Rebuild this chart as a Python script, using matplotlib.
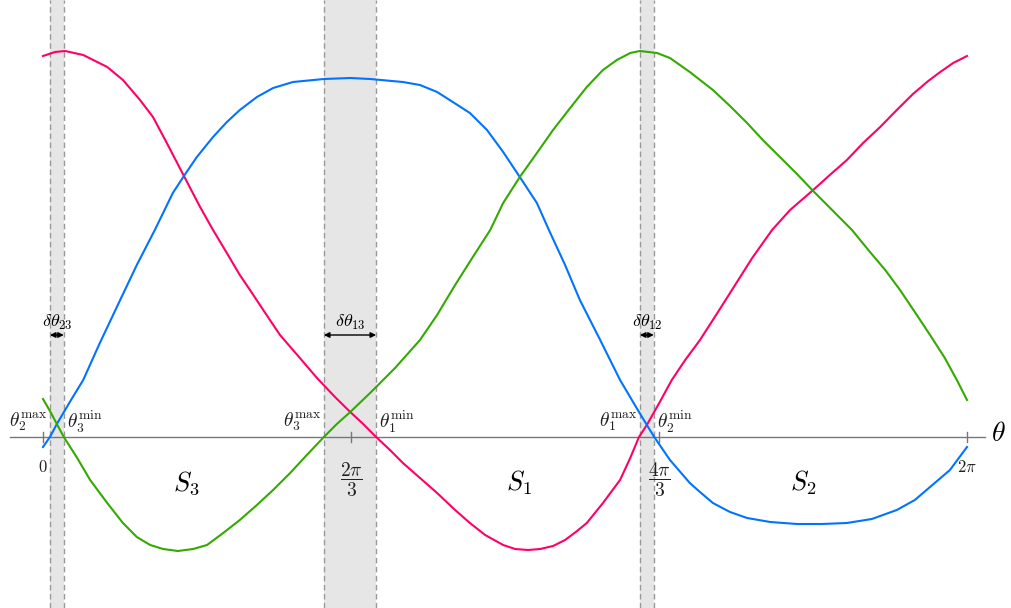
import numpy as np
import matplotlib
matplotlib.use("Agg")
import matplotlib.pyplot as plt

plt.rcParams['mathtext.fontset'] = 'cm'

# angle positions are in units of pi, values are arbitrary units
pink_t = [0.000, 0.026, 0.048, 0.087, 0.139, 0.173, 0.210, 0.238, 0.268, 0.305,
          0.340, 0.368, 0.394, 0.426, 0.448, 0.481, 0.513, 0.556, 0.593, 0.632,
          0.665, 0.693, 0.721, 0.751, 0.779, 0.816, 0.853, 0.892, 0.924, 0.957,
          0.996, 1.022, 1.050, 1.076, 1.104, 1.130, 1.156, 1.177, 1.212, 1.249,
          1.271, 1.290, 1.307, 1.335, 1.361, 1.390, 1.422, 1.461, 1.498, 1.535,
          1.578, 1.617, 1.667, 1.703, 1.740, 1.775, 1.812, 1.848, 1.883, 1.916,
          1.942, 1.970, 2.000]
pink_y = [3.81, 3.85, 3.86, 3.82, 3.70, 3.57, 3.37, 3.20, 2.94, 2.61,
          2.30, 2.07, 1.87, 1.62, 1.47, 1.24, 1.02, 0.79, 0.59, 0.40,
          0.25, 0.13, 0.00, -0.13, -0.26, -0.41, -0.56, -0.73, -0.86, -0.98,
          -1.08, -1.12, -1.13, -1.12, -1.09, -1.03, -0.94, -0.86, -0.66, -0.43,
          -0.21, 0.00, 0.12, 0.35, 0.57, 0.77, 0.97, 1.25, 1.52, 1.79,
          2.07, 2.27, 2.47, 2.62, 2.77, 2.94, 3.10, 3.27, 3.43, 3.56,
          3.65, 3.74, 3.81]

blue_t = [0.000, 0.015, 0.030, 0.058, 0.087, 0.123, 0.167, 0.203, 0.242, 0.281,
          0.305, 0.333, 0.368, 0.398, 0.426, 0.463, 0.498, 0.541, 0.608, 0.665,
          0.708, 0.779, 0.816, 0.853, 0.887, 0.924, 0.961, 0.996, 1.032, 1.069,
          1.095, 1.130, 1.162, 1.206, 1.249, 1.281, 1.307, 1.323, 1.357, 1.400,
          1.422, 1.450, 1.487, 1.524, 1.574, 1.632, 1.686, 1.740, 1.794, 1.848,
          1.887, 1.920, 1.963, 2.000]
blue_y = [-0.10, 0.00, 0.13, 0.35, 0.57, 0.94, 1.37, 1.72, 2.07, 2.44,
          2.61, 2.80, 3.00, 3.15, 3.27, 3.40, 3.49, 3.55, 3.58, 3.59,
          3.58, 3.55, 3.52, 3.45, 3.35, 3.24, 3.07, 2.85, 2.60, 2.34,
          2.07, 1.72, 1.37, 0.97, 0.57, 0.32, 0.12, 0.00, -0.23, -0.46,
          -0.55, -0.66, -0.75, -0.81, -0.85, -0.87, -0.87, -0.86, -0.82, -0.73,
          -0.63, -0.50, -0.33, -0.10]

green_t = [0.000, 0.015, 0.030, 0.045, 0.074, 0.102, 0.139, 0.173, 0.203, 0.232,
           0.260, 0.292, 0.325, 0.355, 0.390, 0.426, 0.463, 0.498, 0.535, 0.571,
           0.608, 0.636, 0.665, 0.708, 0.762, 0.816, 0.853, 0.892, 0.929, 0.968,
           0.996, 1.032, 1.069, 1.104, 1.141, 1.177, 1.212, 1.242, 1.271, 1.292,
           1.329, 1.357, 1.400, 1.450, 1.487, 1.524, 1.558, 1.595, 1.632, 1.667,
           1.708, 1.751, 1.790, 1.823, 1.855, 1.887, 1.920, 1.952, 1.978, 2.000]
green_y = [0.38, 0.26, 0.13, 0.00, -0.21, -0.43, -0.66, -0.86, -1.00, -1.08,
           -1.12, -1.14, -1.12, -1.08, -0.96, -0.83, -0.68, -0.53, -0.36, -0.18,
           0.00, 0.13, 0.25, 0.44, 0.69, 0.97, 1.22, 1.52, 1.79, 2.07,
           2.34, 2.60, 2.84, 3.07, 3.29, 3.50, 3.67, 3.77, 3.84, 3.86,
           3.84, 3.79, 3.65, 3.47, 3.31, 3.14, 2.97, 2.80, 2.63, 2.46,
           2.27, 2.07, 1.85, 1.67, 1.47, 1.25, 1.02, 0.79, 0.57, 0.37]

# overlap bands (start, end) in units of pi
bands = [(0.015, 0.045), (0.608, 0.721), (1.292, 1.322)]
band_names = [r'$\delta\theta_{23}$', r'$\delta\theta_{13}$', r'$\delta\theta_{12}$']

ticks = [0, 2 / 3, 4 / 3, 2]
tick_labels = [r'$0$', r'$\dfrac{2\pi}{3}$', r'$\dfrac{4\pi}{3}$', r'$2\pi$']

# band edge labels: (position in pi, label, side)
edge_labels = [(0.015, r'$\theta_2^{\max}$', 'right'), (0.045, r'$\theta_3^{\min}$', 'left'),
               (0.608, r'$\theta_3^{\max}$', 'right'), (0.721, r'$\theta_1^{\min}$', 'left'),
               (1.292, r'$\theta_1^{\max}$', 'right'), (1.322, r'$\theta_2^{\min}$', 'left')]

sector_t = [0.310, 1.030, 1.645]
sector_names = [r'$S_3$', r'$S_1$', r'$S_2$']

PI = np.pi
fig = plt.figure(figsize=(10.11, 6.08), dpi=100)
ax = fig.add_axes([0, 0, 1, 1])
ax.set_xlim(-0.0931 * PI, 2.0952 * PI)
ax.set_ylim(-1.71, 4.37)
ax.axis('off')

for a, b in bands:
    ax.axvspan(a * PI, b * PI, color='#e6e6e6', zorder=0, lw=0)
    for e in (a, b):
        ax.axvline(e * PI, color='#999999', ls=(0, (4, 2.5)), lw=1.0, zorder=1)

# theta axis
ax.plot([-0.072 * PI, 2.04 * PI], [0, 0], color='#777777', lw=1.0, zorder=2)
ax.text(2.068 * PI, 0.04, r'$\theta$', fontsize=20, ha='center', va='center')
for t, lab in zip(ticks, tick_labels):
    ax.plot([t * PI, t * PI], [-0.05, 0.05], color='#777777', lw=1.0, zorder=2)
    if lab.startswith(r'$\dfrac'):
        ax.text(t * PI, -0.43, lab, fontsize=14, ha='center', va='center', color='#222222')
    else:
        ax.text(t * PI, -0.30, lab, fontsize=12, ha='center', va='center', color='#222222')

ax.plot(np.array(pink_t) * PI, pink_y, color='#ff0066', lw=1.5, zorder=3)
ax.plot(np.array(blue_t) * PI, blue_y, color='#0073ff', lw=1.5, zorder=3)
ax.plot(np.array(green_t) * PI, green_y, color='#33aa00', lw=1.5, zorder=3)

for (a, b), name in zip(bands, band_names):
    ax.annotate('', xy=(a * PI, 1.02), xytext=(b * PI, 1.02),
                arrowprops=dict(arrowstyle='<|-|>', color='black', lw=1.0,
                                mutation_scale=8, shrinkA=0, shrinkB=0))
    ax.text((a + b) / 2 * PI, 1.15, name, fontsize=13, ha='center', va='center')

for t, lab, side in edge_labels:
    off = -0.004 if side == 'right' else 0.006
    ax.text((t + off) * PI, 0.15, lab, fontsize=14, ha=side, va='center', color='#222222')

for t, name in zip(sector_t, sector_names):
    ax.text(t * PI, -0.46, name, fontsize=19, ha='center', va='center')

fig.savefig('out.png', dpi=100)
